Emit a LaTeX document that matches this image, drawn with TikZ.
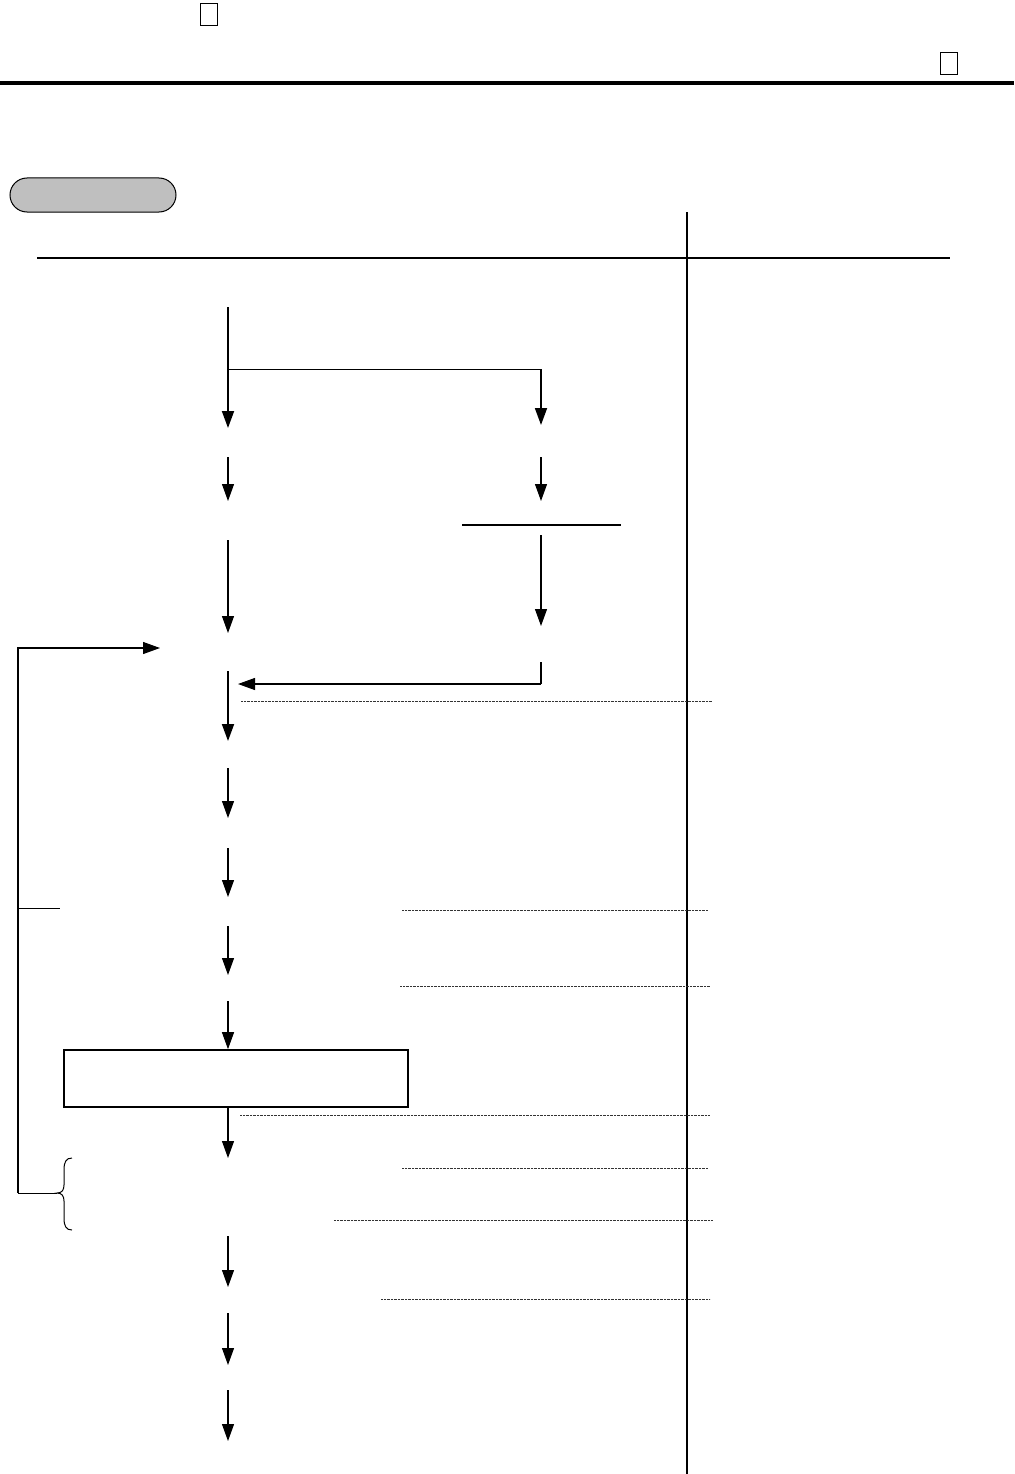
\documentclass[tikz,border=0pt]{standalone}
\usetikzlibrary{arrows.meta}
\begin{document}
\begin{tikzpicture}[x=1pt,y=-1pt,
  flow/.style={line width=1.1pt,-{Triangle[length=17pt,width=12pt]}},
  flowthick/.style={line width=1.8pt,-{Triangle[length=17pt,width=12pt]}},
  leader/.style={line width=0.8pt,dash pattern=on 0.7pt off 0.7pt,black!80},
  rule/.style={line width=2.4pt},
  thin/.style={line width=1pt}]
\useasboundingbox (0,0) rectangle (1014,1474);
% header marks
\node[draw,line width=0.8pt,minimum width=17pt,minimum height=22pt,inner sep=0pt] (m1) at (208.5,14) {};
\node[draw,line width=0.8pt,minimum width=17pt,minimum height=22pt,inner sep=0pt] (m2) at (948.5,63) {};
\draw[line width=4pt] (0,83) -- (1014,83);
% pill
\draw[line width=1pt,fill=black!25,rounded corners=17pt] (10,178) rectangle (176,212);
\node (pill) at (93,195) {};
% table rules
\coordinate (c1) at (687,212); \coordinate (c2) at (687,1474);
\draw[rule] (c1) -- (c2);
\coordinate (h1) at (37,258); \coordinate (h2) at (950,258);
\draw[rule] (h1) -- (h2);
% main flow coordinates
\coordinate (a0) at (228,307); \coordinate (a1) at (228,428);
\coordinate (b0) at (228,369); \coordinate (b1) at (541,369); \coordinate (b2) at (541,425);
\draw[flowthick] (a0) -- (a1);
\draw[thin] (b0) -- (b1);
\draw[flowthick] (b1) -- (b2);
\coordinate (a2) at (228,457); \coordinate (a3) at (228,501);
\draw[flow] (a2) -- (a3);
\coordinate (r2) at (541,457); \coordinate (r3) at (541,501);
\draw[flow] (r2) -- (r3);
\coordinate (bar1) at (462,525); \coordinate (bar2) at (621,525);
\draw[rule] (bar1) -- (bar2);
\coordinate (a4) at (228,540); \coordinate (a5) at (228,633);
\draw[flow] (a4) -- (a5);
\coordinate (r4) at (541,535); \coordinate (r5) at (541,626);
\draw[flow] (r4) -- (r5);
% join from right branch
\coordinate (j0) at (541,662); \coordinate (j1) at (541,684); \coordinate (j2) at (238,684);
\draw[line width=1.8pt] (j0) -- (j1);
\draw[flow] (j1) -- (j2);
% loop
\coordinate (l0) at (18,1193); \coordinate (l1) at (18,648); \coordinate (l2) at (160,648);
\draw[flow] (l0) -- (l1) -- (l2);
\coordinate (l3) at (18,908); \coordinate (l4) at (60,908);
\draw[thin] (l3) -- (l4);
\coordinate (l5) at (57,1193);
\draw[thin] (l0) -- (l5);
\draw[thin] (72,1158) .. controls (66,1158) and (64,1162) .. (64,1170) -- (64,1185) .. controls (64,1190) and (62,1193) .. (57,1193) .. controls (62,1193) and (64,1196) .. (64,1201) -- (64,1218) .. controls (64,1226) and (66,1230) .. (72,1230);
% further flow
\coordinate (a6) at (228,671); \coordinate (a7) at (228,741);
\draw[flowthick] (a6) -- (a7);
\coordinate (a8) at (228,768); \coordinate (a9) at (228,818);
\draw[flow] (a8) -- (a9);
\coordinate (a10) at (228,848); \coordinate (a11) at (228,897);
\draw[flow] (a10) -- (a11);
\coordinate (a12) at (228,926); \coordinate (a13) at (228,975);
\draw[flow] (a12) -- (a13);
\coordinate (a14) at (228,1001);
\node[draw,line width=1.6pt,minimum width=344pt,minimum height=57pt,inner sep=0pt] (box) at (236,1078.5) {};
\draw[flow] (a14) -- (box.north -| a14);
\coordinate (a16) at (228,1158);
\draw[flow] (box.south -| a16) -- (a16);
\coordinate (a17) at (228,1236); \coordinate (a18) at (228,1287);
\draw[flow] (a17) -- (a18);
\coordinate (a19) at (228,1313); \coordinate (a20) at (228,1365);
\draw[flow] (a19) -- (a20);
\coordinate (a21) at (228,1390); \coordinate (a22) at (228,1441);
\draw[flow] (a21) -- (a22);
% leader lines
\draw[leader] (241,701) -- (712,701);
\draw[leader] (402,910) -- (708,910);
\draw[leader] (400,986) -- (710,986);
\draw[leader] (240,1115) -- (710,1115);
\draw[leader] (402,1168) -- (708,1168);
\draw[leader] (334,1220) -- (713,1220);
\draw[leader] (381,1299) -- (710,1299);
\end{tikzpicture}
\end{document}
